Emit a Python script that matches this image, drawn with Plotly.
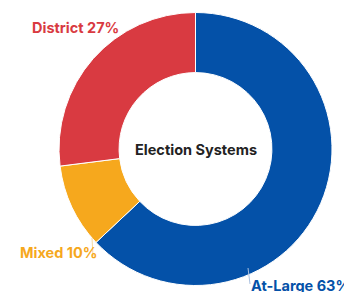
import plotly.graph_objects as go

labels = ["At-Large", "Mixed", "District"]
values = [63, 10, 27]
colors = ["#0451a8", "#f6a81d", "#d93a41"]
title_text = "Election Systems"

W, H = 344, 292
cx, cy, r = 195.5, 149, 136.5

fig = go.Figure(go.Pie(
    labels=labels,
    values=values,
    hole=0.56,
    sort=False,
    direction="clockwise",
    rotation=0,
    marker=dict(colors=colors, line=dict(color="white", width=1)),
    textposition="none",
    showlegend=False,
    hoverinfo="label+percent",
    domain=dict(x=[(cx - r) / W, (cx + r) / W], y=[1 - (cy + r) / H, 1 - (cy - r) / H]),
))

fig.add_annotation(
    text="<b>" + title_text + "</b>", x=cx / W, y=1 - cy / H, xref="paper", yref="paper",
    showarrow=False, font=dict(family="Inter", size=14.5, color="#222222"),
)

# outside labels (pixel anchor positions, from the reference layout)
label_pos = {
    "District": (30, 27, "left"),
    "Mixed": (18, 252, "left"),
    "At-Large": (249, 285, "left"),
}
for lab, val, col in zip(labels, values, colors):
    px, py, anchor = label_pos[lab]
    fig.add_annotation(
        text=f"<b>{lab} {val}%</b>", x=px / W, y=1 - py / H, xref="paper", yref="paper",
        xanchor=anchor, yanchor="middle", showarrow=False,
        font=dict(family="Inter", size=14.5, color=col),
    )

# faint leader lines
fig.add_shape(type="line", xref="paper", yref="paper",
              x0=92 / W, y0=1 - 238 / H, x1=93 / W, y1=1 - 256 / H,
              line=dict(color="#f8d9a0", width=1))
fig.add_shape(type="line", xref="paper", yref="paper",
              x0=248 / W, y0=1 - 268 / H, x1=250 / W, y1=1 - 284 / H,
              line=dict(color="#a9c0df", width=1))

fig.update_layout(
    width=W, height=H,
    margin=dict(l=0, r=0, t=0, b=0),
    paper_bgcolor="white", plot_bgcolor="white",
)

fig.write_html("out.html", config={"displayModeBar": False},
               post_script="document.body.style.margin='0';document.body.style.overflow='hidden';")
